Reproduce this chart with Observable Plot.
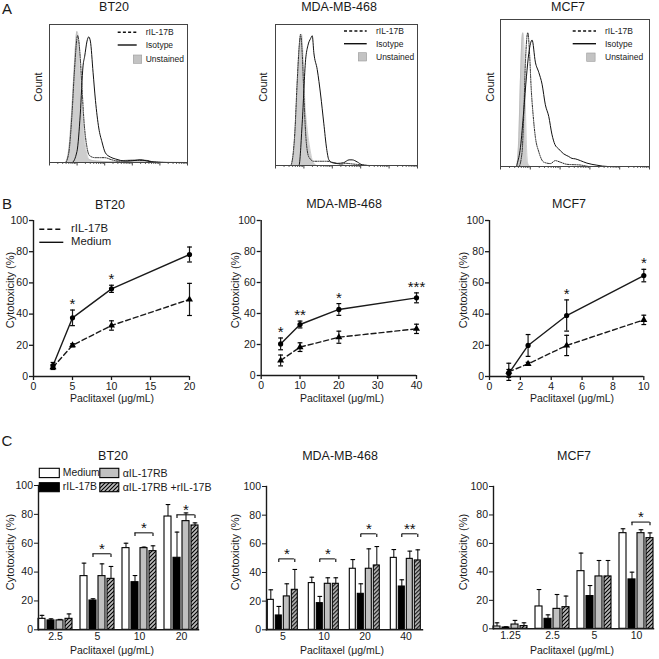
<!DOCTYPE html>
<html><head><meta charset="utf-8">
<script src="https://cdn.jsdelivr.net/npm/d3@7"></script>
<script src="https://cdn.jsdelivr.net/npm/@observablehq/plot@0.6"></script>
<style>
body{margin:0;background:#fff;}
#fig{position:relative;width:659px;height:659px;overflow:hidden;font-family:"Liberation Sans",Arial,sans-serif;color:#1a1a1a;background:#fff;}
.lab{position:absolute;white-space:nowrap;line-height:1;}
</style></head>
<body>
<svg width="0" height="0" style="position:absolute">
  <defs>
    <pattern id="hatch" patternUnits="userSpaceOnUse" width="4" height="4">
      <rect width="4" height="4" fill="#bdbdbd"/>
      <path d="M-1,1 L1,-1 M0,4 L4,0 M3,5 L5,3" stroke="#000" stroke-width="1.1"/>
    </pattern>
  </defs>
</svg>
<div id="fig"></div>
<script>
// ---------------- DATA ----------------
// Panel A: flow-cytometry histograms, [position (0-100 of axis), count (% of max)]
const histBT20_unstained = [[0,0],[11.4,0],[13.8,8],[16.3,40],[18,70],[19.9,95],[21.4,85],[22.8,55],[24.8,25],[26.7,8],[29,2],[34,1],[45,0.5],[54,1.5],[62,2],[71,1.5],[75,0.3],[100,0]];
const histBT20_rIL17B    = [[0,0],[11.4,0],[13.8,6],[16.3,35],[18,65],[20.4,92],[22,80],[23.5,55],[25,30],[27,12],[29,5],[33,3.5],[40,3.5],[45,2],[50,1],[60,1.5],[70,1.5],[75,0.5],[85,0],[100,0]];
const histBT20_isotype   = [[0,0],[16.3,0],[19.9,8],[22.3,35],[24.3,70],[25.5,77],[27.2,88],[28.4,91],[29.6,88],[31.6,65],[33.3,45],[35.7,25],[38,15],[40.5,7],[44,4],[48,2.5],[51.5,1.5],[56,1],[62,1.5],[66,2],[71,1],[76,0.3],[85,0],[100,0]];

const histMDA_unstained = [[0,0],[10.6,0],[12.9,10],[14.8,45],[16.5,80],[18.4,93],[19.5,75],[20.7,45],[22.4,25],[24.2,12],[26.6,2],[29.4,0],[100,0]];
const histMDA_rIL17B    = [[0,0],[10.6,0],[13.4,20],[15.3,60],[16.7,85],[17.6,93],[18.8,80],[20,50],[21.4,20],[23.5,6],[27,3],[36.5,3],[41,2],[46,1],[50,1.5],[55,1],[60,0.5],[67,0],[100,0]];
const histMDA_isotype   = [[0,0],[16.5,0],[18.8,30],[21.2,75],[22.8,85],[24.7,90],[25.9,92],[27,80],[29.4,68],[31.8,50],[34,30],[36,12],[37.6,4],[40,2],[43.5,1.5],[48,2],[51.8,4],[54,4],[57.6,2.5],[61,0.5],[65,0],[100,0]];

const histMCF7_unstained = [[0,0],[10.7,0],[12.3,20],[13.4,60],[14.3,85],[15,91],[15.8,80],[16.5,50],[17.4,15],[18.3,2],[20,0],[100,0]];
const histMCF7_rIL17B    = [[0,0],[12.3,0],[14.5,10],[15.6,35],[16.7,70],[18.3,91],[19.6,75],[20.5,55],[21.9,35],[23.4,20],[25.7,10],[29,3],[33.5,2],[36.8,4],[40,3],[44.6,1.5],[53.6,1],[60,0],[100,0]];
const histMCF7_isotype   = [[0,0],[10.7,0],[11.2,1.8],[13.4,13],[15.6,38],[17.4,61],[19,77],[21.2,86],[23.4,71],[25.7,64],[27.9,56],[30.1,42],[32.4,34],[34.5,22],[36.5,15],[39,12],[42.4,8.6],[45.8,6.8],[48,5.5],[50.2,5.2],[53.6,4],[58,2.3],[64.7,0.9],[72,0],[100,0]];

// Panel B: cytotoxicity vs paclitaxel
const bConcBT20 = [2.5, 5, 10, 20];
const bMedBT20 = [7, 37.6, 56.2, 78.2];
const bMedErrBT20 = [2, 5, 2.3, 4.8];
const bRilBT20 = [6, 20, 32.7, 49.4];
const bRilErrBT20 = [1.5, 1, 3, 10.3];
const bStarsBT20 = ["", "*", "*", ""];
const bTicksBT20 = [0, 5, 10, 15, 20];

const bConcMDA = [5, 10, 20, 40];
const bMedMDA = [20.4, 32.9, 42.6, 50.1];
const bMedErrMDA = [3.8, 2.2, 3.8, 3.2];
const bRilMDA = [9.7, 18.3, 24.7, 30.1];
const bRilErrMDA = [3.5, 2.8, 3.9, 3];
const bStarsMDA = ["*", "**", "*", "***"];
const bTicksMDA = [0, 10, 20, 30, 40];

const bConcMCF7 = [1.25, 2.5, 5, 10];
const bMedMCF7 = [2, 19.9, 39.1, 64.7];
const bMedErrMCF7 = [2.5, 7, 10, 4];
const bRilMCF7 = [3, 8.1, 19.9, 36.3];
const bRilErrMCF7 = [5.5, 1, 6.5, 3];
const bStarsMCF7 = ["", "", "*", "*"];
const bTicksMCF7 = [0, 2, 4, 6, 8, 10];

// Panel C: grouped bars
const seriesNames = ["Medium", "rIL-17B", "αIL-17RB", "αIL-17RB +rIL-17B"];
const seriesFill = ["white", "black", "#c0c0c0", "url(#hatch)"];

const cGroupsBT20 = ["2.5", "5", "10", "20"];
const cMedBT20 = [7.6, 37.2, 56.6, 78.5],  cMedErrBT20 = [2.4, 9, 3.4, 8.3];
const cRilBT20 = [6.5, 20.3, 33, 49.9],    cRilErrBT20 = [1.1, 1.2, 4.6, 17.8];
const cAbBT20  = [6.5, 37.2, 56.6, 75.3],  cAbErrBT20  = [0.7, 8.5, 0.7, 5.7];
const cAbRilBT20 = [7.6, 35.3, 54.5, 72.3], cAbRilErrBT20 = [3.4, 8.6, 3.7, 1.8];
const cBrGroupsBT20 = ["5", "10", "20"], cBrLevelsBT20 = [52.7, 67.2, 79.7], cBrStarsBT20 = ["*", "*", "*"];

const cGroupsMDA = ["5", "10", "20", "40"];
const cMedMDA = [20.9, 32.6, 42.6, 50.2],  cMedErrMDA = [7, 4.1, 6.4, 5.8];
const cRilMDA = [10, 18.6, 25.1, 30.2],    cRilErrMDA = [6.3, 4.7, 7, 4.7];
const cAbMDA  = [23.3, 32.1, 42.6, 49.5],  cAbErrMDA  = [8.8, 4.2, 13.9, 5.4];
const cAbRilMDA = [27.9, 32.1, 44.9, 48.4], cAbRilErrMDA = [14.2, 4.2, 13.2, 7.4];
const cBrGroupsMDA = ["5", "10", "20", "40"], cBrLevelsMDA = [49.5, 49.5, 67, 67], cBrStarsMDA = ["*", "*", "*", "**"];

const cGroupsMCF7 = ["1.25", "2.5", "5", "10"];
const cMedMCF7 = [1.6, 15.7, 40.5, 67.2],  cMedErrMCF7 = [2.6, 11.9, 12.7, 3.1];
const cRilMCF7 = [0.9, 7, 23, 34.7],       cRilErrMCF7 = [0.5, 2.8, 7.4, 5.1];
const cAbMCF7  = [3, 14, 36.8, 67.2],      cAbErrMCF7  = [2.9, 10.1, 11.2, 2.4];
const cAbRilMCF7 = [1.9, 15.2, 36.8, 63.7], cAbRilErrMCF7 = [2.3, 7.8, 11.2, 3.7];
const cBrGroupsMCF7 = ["10"], cBrLevelsMCF7 = [75], cBrStarsMCF7 = ["*"];

// ---------------- HELPERS ----------------
const fig = document.getElementById("fig");
const FONT = '"Liberation Sans", Arial, sans-serif';
const baseStyle = {fontFamily: FONT, fontSize: "10.5px", color: "#1a1a1a", background: "none", overflow: "visible"};

function label(text, x, y, size, opts = {}) {
  const d = document.createElement("div");
  d.className = "lab";
  d.textContent = text;
  d.style.fontSize = size + "px";
  d.style.left = x + "px";
  d.style.top = y + "px";
  let tf = opts.start ? "translate(0,-50%)" : "translate(-50%,-50%)";
  if (opts.rotate) tf += ` rotate(${opts.rotate}deg)`;
  d.style.transform = tf;
  fig.appendChild(d);
}
function svgAt(x, y, w, h, inner) {
  const s = document.createElementNS("http://www.w3.org/2000/svg", "svg");
  s.setAttribute("width", w); s.setAttribute("height", h);
  s.style.cssText = `position:absolute;left:${x}px;top:${y}px;overflow:visible`;
  s.innerHTML = inner;
  fig.appendChild(s);
}
function dims(fr, bx) {
  return {width: bx.W, height: bx.H,
    marginLeft: fr.x0 - bx.L, marginRight: bx.L + bx.W - fr.x1,
    marginTop: fr.y0 - bx.T, marginBottom: bx.T + bx.H - fr.y1};
}
function place(svg, bx) {
  svg.style.position = "absolute";
  svg.style.left = bx.L + "px";
  svg.style.top = bx.T + "px";
  svg.style.maxWidth = "none";
  fig.appendChild(svg);
}
const capSym = {draw(ctx, size) { const r = Math.sqrt(size / Math.PI); ctx.moveTo(-r, 0); ctx.lineTo(r, 0); }};
const tickDownSym = {draw(ctx, size) { const r = Math.sqrt(size / Math.PI); ctx.moveTo(0, 0); ctx.lineTo(0, r); }};

// log-style minor ticks for the flow axis (axis decoration only)
const histMajor = [0, 20, 40, 60, 80, 100];
const histMinor = [];
for (let d = 0; d < 5; d++) for (let k = 2; k < 10; k++) histMinor.push(20 * (d + Math.log10(k)));

function histPlot(fr, bx, unst, ril, iso) {
  const px = d => d[0], py = d => d[1];
  const p = Plot.plot({
    ...dims(fr, bx), style: baseStyle,
    x: {domain: [0, 100], axis: null},
    y: {domain: [0, 100], axis: null},
    marks: [
      Plot.areaY(unst, {x: px, y: py, curve: "monotone-x", fill: "#cdcdcd"}),
      Plot.lineY(unst, {x: px, y: py, curve: "monotone-x", stroke: "#b0b0b0", strokeWidth: 0.6}),
      Plot.lineY(ril, {x: px, y: py, curve: "monotone-x", stroke: "#222", strokeWidth: 1, strokeDasharray: "1.2,1.2"}),
      Plot.lineY(iso, {x: px, y: py, curve: "monotone-x", stroke: "#111", strokeWidth: 1}),
      Plot.axisX({ticks: histMinor, tickSize: 2, tickFormat: () => "", label: null, stroke: "#666"}),
      Plot.axisX({ticks: histMajor, tickSize: 3.5, tickFormat: () => "", label: null, stroke: "#444"}),
      Plot.frame({stroke: "#444", strokeWidth: 1})
    ]
  });
  place(p, bx);
}

function linePlot(fr, bx, conc, med, medErr, ril, rilErr, stars, ticks) {
  const rows = conc.map((c, i) => ({c, med: med[i], me: medErr[i], ril: ril[i], re: rilErr[i], star: stars[i]}));
  const p = Plot.plot({
    ...dims(fr, bx), style: baseStyle,
    x: {domain: [0, ticks[ticks.length - 1]]},
    y: {domain: [0, 100]},
    marks: [
      Plot.axisX({ticks, tickSize: 4, tickPadding: 2, label: null, strokeWidth: 1.3}),
      Plot.axisY({ticks: [0, 20, 40, 60, 80, 100], tickSize: 4, tickPadding: 1.5, label: null, strokeWidth: 1.3}),
      Plot.ruleY([0], {strokeWidth: 1.4}),
      Plot.ruleX([0], {strokeWidth: 1.4}),
      Plot.line(rows, {x: "c", y: "ril", strokeWidth: 1.4, strokeDasharray: "5,3"}),
      Plot.line(rows, {x: "c", y: "med", strokeWidth: 1.4}),
      Plot.ruleX(rows, {x: "c", y1: d => d.ril - d.re, y2: d => d.ril + d.re, strokeWidth: 1.2}),
      Plot.dot(rows, {x: "c", y: d => d.ril - d.re, symbol: capSym, r: 2.4, stroke: "black", fill: "none", strokeWidth: 1.2}),
      Plot.dot(rows, {x: "c", y: d => d.ril + d.re, symbol: capSym, r: 2.4, stroke: "black", fill: "none", strokeWidth: 1.2}),
      Plot.ruleX(rows, {x: "c", y1: d => d.med - d.me, y2: d => d.med + d.me, strokeWidth: 1.2}),
      Plot.dot(rows, {x: "c", y: d => d.med - d.me, symbol: capSym, r: 2.4, stroke: "black", fill: "none", strokeWidth: 1.2}),
      Plot.dot(rows, {x: "c", y: d => d.med + d.me, symbol: capSym, r: 2.4, stroke: "black", fill: "none", strokeWidth: 1.2}),
      Plot.dot(rows, {x: "c", y: "ril", symbol: "triangle", r: 2.6, fill: "black"}),
      Plot.dot(rows, {x: "c", y: "med", r: 2.6, fill: "black"}),
      Plot.text(rows.filter(d => d.star), {x: "c", y: d => d.med + d.me, text: "star", lineAnchor: "bottom", dy: -1, fontSize: 15, fill: "#111"})
    ]
  });
  place(p, bx);
}

function barPlot(fr, bx, groups, vals, errs, brGroups, brLevels, brStars) {
  const rows = [];
  groups.forEach((g, i) => seriesNames.forEach((s, j) => rows.push({g, s, v: vals[j][i], e: errs[j][i]})));
  const br = brGroups.map((g, i) => ({g, y: brLevels[i], star: brStars[i]}));
  const p = Plot.plot({
    ...dims(fr, bx), style: baseStyle,
    fx: {domain: groups, paddingInner: 0.2, paddingOuter: 0.1, label: null, axis: "bottom", tickSize: 0, tickPadding: 3},
    x: {domain: seriesNames, paddingInner: 0.25, paddingOuter: 0, axis: null},
    y: {domain: [0, 100], ticks: [0, 20, 40, 60, 80, 100], tickSize: 4, tickPadding: 1.5, label: null},
    color: {domain: seriesNames, range: seriesFill},
    marks: [
      Plot.ruleX(rows, {fx: "g", x: "s", y1: "v", y2: d => d.v + d.e, strokeWidth: 1.1}),
      Plot.dot(rows, {fx: "g", x: "s", y: d => d.v + d.e, symbol: capSym, r: 2.3, stroke: "black", fill: "none", strokeWidth: 1.1}),
      Plot.barY(rows, {fx: "g", x: "s", y: "v", fill: "s", stroke: "black", strokeWidth: 1.1}),
      Plot.ruleY(br, {fx: "g", y: "y", x1: () => seriesNames[1], x2: () => seriesNames[3], insetLeft: 3.4, insetRight: 3.4, strokeWidth: 1.1}),
      Plot.dot(br, {fx: "g", x: () => seriesNames[1], y: "y", symbol: tickDownSym, r: 3.2, stroke: "black", fill: "none", strokeWidth: 1.1}),
      Plot.dot(br, {fx: "g", x: () => seriesNames[3], y: "y", symbol: tickDownSym, r: 3.2, stroke: "black", fill: "none", strokeWidth: 1.1}),
      Plot.text(br, {fx: "g", x: () => seriesNames[2], y: "y", text: "star", lineAnchor: "bottom", dy: 0, fontSize: 15, fill: "#111"}),
      Plot.frame({anchor: "bottom", facet: "super", strokeWidth: 1.4}),
      Plot.frame({anchor: "left", facet: "super", strokeWidth: 1.4})
    ]
  });
  place(p, bx);
}

// ---------------- PANEL A ----------------
label("A", 7, 8, 15);
histPlot({x0: 49, x1: 187, y0: 24, y1: 162}, {L: 0, T: 0, W: 200, H: 175}, histBT20_unstained, histBT20_rIL17B, histBT20_isotype);
histPlot({x0: 275, x1: 417, y0: 24, y1: 165}, {L: 220, T: 0, W: 215, H: 175}, histMDA_unstained, histMDA_rIL17B, histMDA_isotype);
histPlot({x0: 500, x1: 649, y0: 19, y1: 166}, {L: 440, T: 0, W: 219, H: 175}, histMCF7_unstained, histMCF7_rIL17B, histMCF7_isotype);
label("BT20", 114, 7, 12.5); label("MDA-MB-468", 339, 7, 12.5); label("MCF7", 568, 7, 12.5);
label("Count", 38, 87, 11, {rotate: -90}); label("Count", 262.5, 87, 11, {rotate: -90}); label("Count", 490, 87, 11, {rotate: -90});

function histLegend(x0, x1, yDash, ySolid, sqX, sqY, tx, tyU) {
  svgAt(0, 0, 1, 1,
    `<line x1="${x0}" x2="${x1}" y1="${yDash}" y2="${yDash}" stroke="#111" stroke-width="1.4" stroke-dasharray="3,2.2"/>` +
    `<line x1="${x0}" x2="${x1}" y1="${ySolid}" y2="${ySolid}" stroke="#111" stroke-width="1.4"/>` +
    `<rect x="${sqX}" y="${sqY}" width="8.4" height="8.3" fill="#c3c3c3" stroke="#9a9a9a" stroke-width="0.6"/>`);
  label("rIL-17B", tx, yDash, 8.5, {start: true});
  label("Isotype", tx, ySolid, 8.5, {start: true});
  label("Unstained", tx, tyU, 8.5, {start: true});
}
histLegend(117.7, 136.7, 32.3, 45, 133.3, 55, 145.7, 59.2);
histLegend(344, 366.7, 31, 43.7, 358.3, 52.7, 376, 57);
histLegend(572.7, 596, 31, 43.7, 586.7, 53, 605, 57.3);

// ---------------- PANEL B ----------------
label("B", 7, 203, 15);
linePlot({x0: 33, x1: 189, y0: 220, y1: 376}, {L: 0, T: 195, W: 215, H: 200}, bConcBT20, bMedBT20, bMedErrBT20, bRilBT20, bRilErrBT20, bStarsBT20, bTicksBT20);
linePlot({x0: 260.7, x1: 416, y0: 220, y1: 375}, {L: 220, T: 195, W: 215, H: 200}, bConcMDA, bMedMDA, bMedErrMDA, bRilMDA, bRilErrMDA, bStarsMDA, bTicksMDA);
linePlot({x0: 489, x1: 643.3, y0: 220, y1: 376}, {L: 440, T: 195, W: 219, H: 200}, bConcMCF7, bMedMCF7, bMedErrMCF7, bRilMCF7, bRilErrMCF7, bStarsMCF7, bTicksMCF7);
label("BT20", 110, 205, 12.5); label("MDA-MB-468", 344, 204, 12.5); label("MCF7", 569, 204, 12.5);
label("Cytotoxicity (%)", 10, 290, 11, {rotate: -90});
label("Cytotoxicity (%)", 235, 290, 11, {rotate: -90});
label("Cytotoxicity (%)", 463, 290, 11, {rotate: -90});
label("Paclitaxel (μg/mL)", 112, 398, 10.5); label("Paclitaxel (μg/mL)", 342, 398, 10.5); label("Paclitaxel (μg/mL)", 572, 398, 10.5);
svgAt(0, 0, 1, 1,
  `<line x1="39.3" x2="63.3" y1="229.3" y2="229.3" stroke="#111" stroke-width="1.4" stroke-dasharray="5,3"/>` +
  `<line x1="39.3" x2="63.3" y1="242.3" y2="242.3" stroke="#111" stroke-width="1.4"/>`);
label("rIL-17B", 71, 229.3, 11.3, {start: true});
label("Medium", 71, 242.3, 11.3, {start: true});

// ---------------- PANEL C ----------------
label("C", 7, 440, 15);
barPlot({x0: 33, x1: 202, y0: 485, y1: 629.3}, {L: 0, T: 470, W: 215, H: 185}, cGroupsBT20,
  [cMedBT20, cRilBT20, cAbBT20, cAbRilBT20], [cMedErrBT20, cRilErrBT20, cAbErrBT20, cAbRilErrBT20],
  cBrGroupsBT20, cBrLevelsBT20, cBrStarsBT20);
barPlot({x0: 261.7, x1: 426.7, y0: 486, y1: 629.3}, {L: 220, T: 470, W: 215, H: 185}, cGroupsMDA,
  [cMedMDA, cRilMDA, cAbMDA, cAbRilMDA], [cMedErrMDA, cRilErrMDA, cAbErrMDA, cAbRilErrMDA],
  cBrGroupsMDA, cBrLevelsMDA, cBrStarsMDA);
barPlot({x0: 489, x1: 657, y0: 486, y1: 628.3}, {L: 440, T: 470, W: 219, H: 185}, cGroupsMCF7,
  [cMedMCF7, cRilMCF7, cAbMCF7, cAbRilMCF7], [cMedErrMCF7, cRilErrMCF7, cAbErrMCF7, cAbRilErrMCF7],
  cBrGroupsMCF7, cBrLevelsMCF7, cBrStarsMCF7);
label("BT20", 113, 456, 12.5); label("MDA-MB-468", 340, 456, 12.5); label("MCF7", 574, 456, 12.5);
label("Cytotoxicity (%)", 10, 552, 11, {rotate: -90});
label("Cytotoxicity (%)", 235, 552, 11, {rotate: -90});
label("Cytotoxicity (%)", 463, 552, 11, {rotate: -90});
label("Paclitaxel (μg/mL)", 112, 650, 10.5); label("Paclitaxel (μg/mL)", 342, 650, 10.5); label("Paclitaxel (μg/mL)", 572, 650, 10.5);
svgAt(0, 0, 1, 1,
  `<rect x="39.3" y="468.3" width="20" height="9.3" fill="white" stroke="#000" stroke-width="1.1"/>` +
  `<rect x="39.3" y="482.7" width="20" height="9" fill="#000" stroke="#000" stroke-width="1.1"/>` +
  `<rect x="99.8" y="468.3" width="19" height="9.3" fill="#c0c0c0" stroke="#000" stroke-width="1.1"/>` +
  `<rect x="99.8" y="482.7" width="19" height="9" fill="url(#hatch)" stroke="#000" stroke-width="1.1"/>`);
label(seriesNames[0], 62.8, 473, 10.4, {start: true});
label(seriesNames[1], 62.8, 487.2, 10.4, {start: true});
label(seriesNames[2], 122.7, 473, 10.6, {start: true});
label(seriesNames[3], 122.7, 487.2, 10.6, {start: true});
</script>
</body></html>
